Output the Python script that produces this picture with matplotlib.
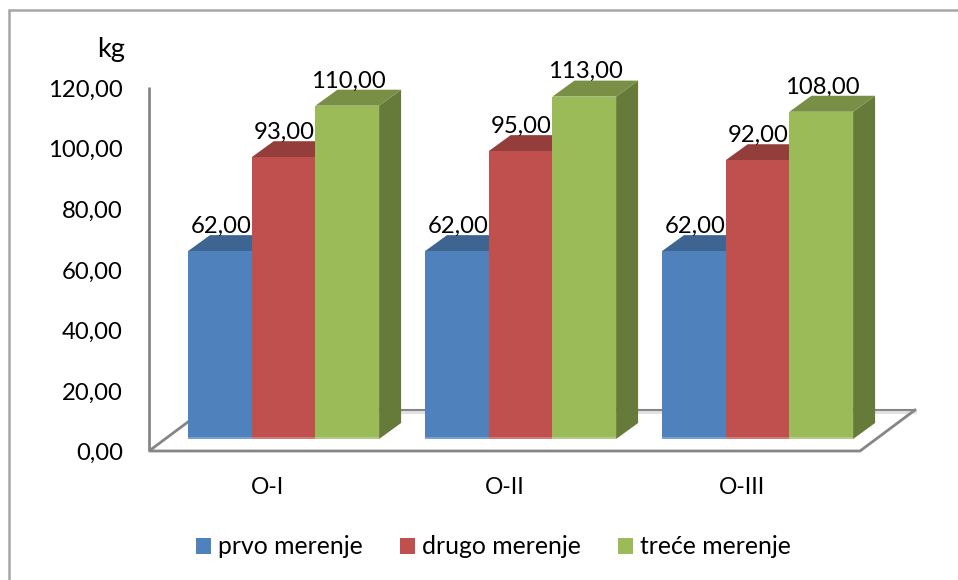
import matplotlib
matplotlib.use('Agg')
import matplotlib.pyplot as plt
from matplotlib.patches import Polygon, Rectangle

categories = ['O-I', 'O-II', 'O-III']
series_names = ['prvo merenje', 'drugo merenje', 'treće merenje']
prvo = [62, 62, 62]
drugo = [93, 95, 92]
trece = [110, 113, 108]
y_ticks = [0, 20, 40, 60, 80, 100, 120]

front = ['#4F81BD', '#C0504D', '#9BBB59']
top = ['#3E6491', '#943E3B', '#788F45']
side = ['#314D70', '#723030', '#667A3A']

plt.rcParams['font.family'] = ['Lato', 'DejaVu Sans']
FS = 17.2
SCALE = 3.03      # px per kg
W, H = 958, 580
Y0 = 439          # pixel row of value 0 at the bar front
DX, DY = 22, 16 / SCALE
AX_OFF = 12 / SCALE


def fmt(v):
    return f'{v:.2f}'.replace('.', ',')


fig = plt.figure(figsize=(W / 100, H / 100), dpi=100)
ax = fig.add_axes([0, 0, 1, 1])
ax.set_xlim(0, W)
ax.set_ylim((Y0 - H) / SCALE, Y0 / SCALE)
ax.axis('off')

# only left and top edge of the chart border are in the picture
border = '#A6A6A6'
ax.plot([9.5, 9.5, W], [(Y0 - p) / SCALE for p in (H, 10.5, 10.5)], color=border, lw=1.8, zorder=1,
        solid_joinstyle='miter')

# floor and axis
gray = '#868686'
y_floor = -AX_OFF
y_back = (Y0 - 410) / SCALE
ax.plot([204, 915], [y_back - 0.7] * 2, color='#E0E0E0', lw=2, zorder=1)
ax.plot([204, 915], [y_back, y_back], color=gray, lw=1.5, zorder=2)
ax.plot([149, 149], [120 - AX_OFF, y_floor], color=gray, lw=2, zorder=2, solid_capstyle='butt')
ax.plot([204, 149, 860, 915], [y_back, y_floor, y_floor, y_back], color=gray, lw=2, zorder=2,
        solid_joinstyle='miter')

starts = [188, 425, 662]
bar_w = 63.7
z = 3
for i, cat in enumerate(categories):
    vals = [prvo[i], drugo[i], trece[i]]
    for j, v in enumerate(vals):
        x0 = starts[i] + j * bar_w
        x1 = x0 + bar_w
        ax.add_patch(Polygon([(x1, 0), (x1 + DX, DY), (x1 + DX, v + DY), (x1, v)], fc=side[j], ec='none', zorder=z))
        ax.add_patch(Polygon([(x0, v), (x0 + DX, v + DY), (x1 + DX, v + DY), (x1, v)], fc=top[j], ec='none', zorder=z))
        ax.bar(x0, v, width=bar_w, align='edge', color=front[j], zorder=z + 0.5)
        # lighter strip at the foot of the bar
        ax.add_patch(Rectangle((x0, 0), bar_w, 0.6, fc='white', alpha=0.25, ec='none', zorder=z + 0.6))
        ax.text(x0 + bar_w / 2 + 1, v + 8.2, fmt(v), ha='center', va='center', fontsize=FS, zorder=10)
        z += 1
    ax.text(starts[i] + 1.5 * bar_w - 16, -15.9, cat, ha='center', va='center', fontsize=16.5)

for t in y_ticks:
    ax.text(123, t - AX_OFF - 0.9, fmt(t), ha='right', va='center', fontsize=FS)
ax.text(125, 128.4, 'kg', ha='right', va='center', fontsize=19.5)

handles = [Rectangle((0, 0), 1, 1, fc=c, ec='none') for c in front]
ax.legend(handles, series_names, ncol=3, frameon=False, fontsize=17.8, loc='center',
          bbox_to_anchor=(493.5 / W, 1 - 547 / H), handlelength=0.61, handleheight=0.61,
          handletextpad=0.28, columnspacing=1.5)

fig.savefig('out.png', dpi=100)
